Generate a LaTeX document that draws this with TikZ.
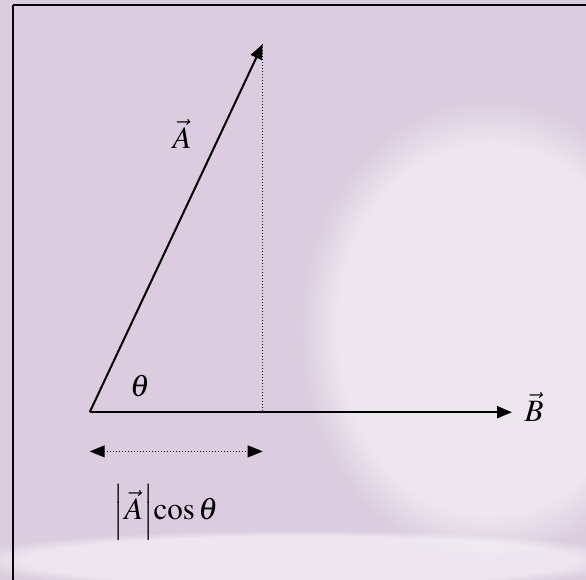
\documentclass[tikz,border=0pt]{standalone}
\usepackage{mathptmx}
\usetikzlibrary{arrows.meta,fadings}
\definecolor{bgc}{RGB}{219,205,223}
\begin{document}
\begin{tikzpicture}[x=1pt,y=-1pt,
  vec/.style={line width=2pt,-{Triangle[length=15pt,width=12pt]}},
  proj/.style={line width=1pt,dotted},
  dim/.style={line width=1pt,dotted,{Triangle[length=15pt,width=12pt]}-{Triangle[length=15pt,width=12pt]}},
  lbl/.style={font=\fontsize{31}{34}\selectfont,inner sep=0pt}]
\useasboundingbox (0,0) rectangle (586,580);
\fill[bgc] (0,0) rectangle (586,580);
% faint lighter texture
\fill[white,opacity=0.5,path fading=circle with fuzzy edge 20 percent] (490,330) ellipse (190pt and 230pt);
\fill[white,opacity=0.5,path fading=circle with fuzzy edge 20 percent] (300,560) ellipse (340pt and 30pt);
\draw[line width=2pt] (13,5) -- (590,5) (13,5) -- (13,590);
\coordinate (O) at (89.7,412.2);
\coordinate (Atip) at (262.7,44);
\coordinate (Foot) at (262.7,412.2);
\coordinate (Btip) at (512,412.2);
\coordinate (D1) at (89.7,451.4);
\coordinate (D2) at (262.7,451.4);
\draw[proj] (Atip) -- (Foot);
\draw[vec] (O) -- (Atip);
\draw[vec] (O) -- (Btip);
\draw[dim] (D1) -- (D2);
\node[lbl] (LA) at (182,134) {$\vec{A}$};
\node[lbl] (LB) at (534,407) {$\vec{B}$};
\node[lbl] (LT) at (140,386) {$\theta$};
\node[lbl] (LC) at (166,512) {$\left|\vec{A}\right|\!\cos\theta$};
\end{tikzpicture}
\end{document}
